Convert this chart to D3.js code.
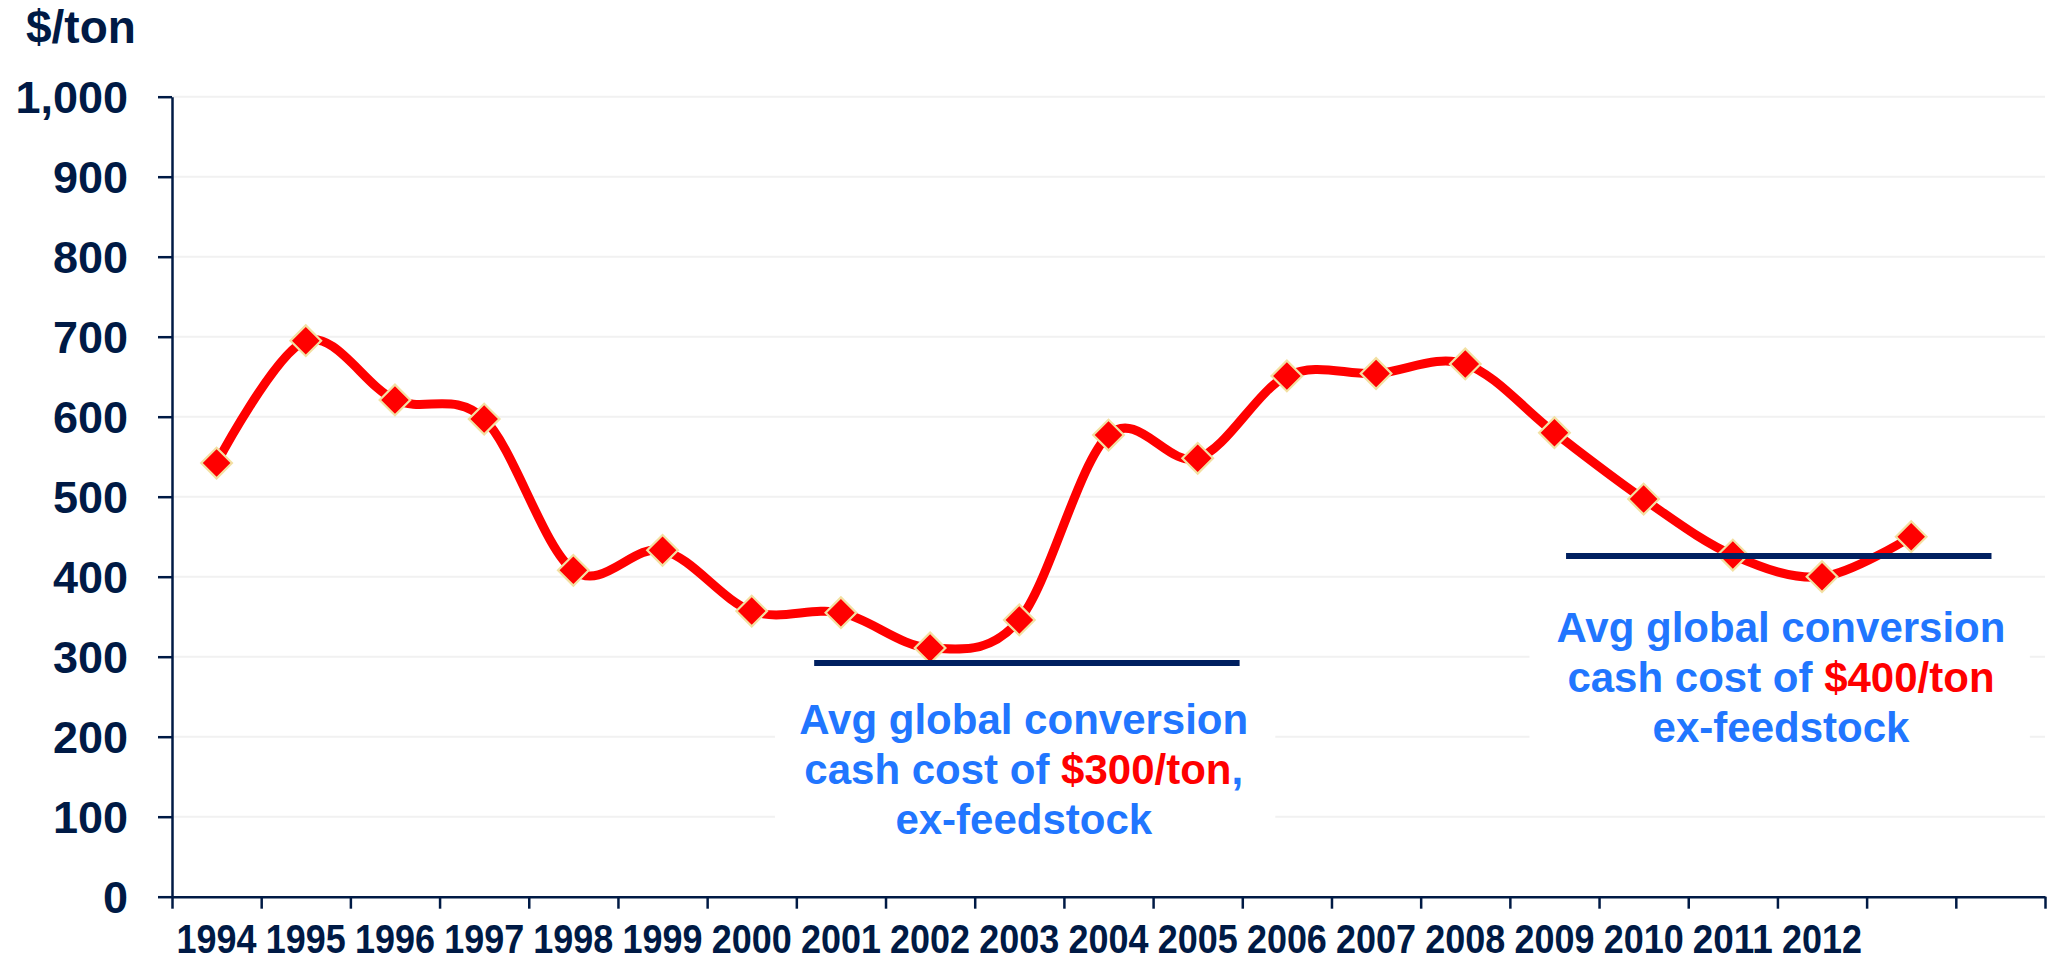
<!DOCTYPE html>
<html>
<head>
<meta charset="utf-8">
<script src="https://cdn.jsdelivr.net/npm/d3@7"></script>
<style>
  body { margin: 0; background: #fff; }
  text { font-family: "Liberation Sans", Arial, sans-serif; font-weight: bold; }
</style>
</head>
<body>
<script>
// categories on the x axis (21 slots, only 1994-2012 labelled)
const categories = ["1994", "1995", "1996", "1997", "1998", "1999", "2000", "2001", "2002", "2003",
  "2004", "2005", "2006", "2007", "2008", "2009", "2010", "2011", "2012", "2013", "2014"];
const labelYears = ["1994", "1995", "1996", "1997", "1998", "1999", "2000", "2001", "2002", "2003",
  "2004", "2005", "2006", "2007", "2008", "2009", "2010", "2011", "2012"];

// margin series, $/ton
const costYears = ["1994", "1995", "1996", "1997", "1998", "1999", "2000", "2001", "2002", "2003",
  "2004", "2005", "2006", "2007", "2008", "2009", "2010", "2011", "2012", "2013"];
const costValues = [542, 695, 621, 597, 408, 433, 357, 355, 311, 346,
  577, 548, 651, 654, 666, 580, 497, 427, 400, 450];

const yTicks = [0, 100, 200, 300, 400, 500, 600, 700, 800, 900, 1000];

// average conversion cost lines (slot index start/end, value)
const avgValues = [292, 426];
const avgStart = [7.2, 15.63];
const avgEnd = [11.97, 20.4];

// annotation text
const noteCenter = [9.55, 18.04];
const noteTop = [204, 318];
const notePrice = ["$300/ton", "$400/ton"];
const noteAfter = [",", ""];
const boxStart = [6.76, 15.22];
const boxEnd = [12.37, 20.83];
const boxHigh = [270, 382];
const boxLow = [58, 170];

const width = 2060, height = 961;
const margin = { top: 96.7, right: 15, bottom: 64.3, left: 172 };
const navy = "#001a45";
const blue = "#2176ff";

const svg = d3.select("body").append("svg")
  .attr("width", width)
  .attr("height", height);

const x = d3.scaleBand()
  .domain(categories)
  .range([margin.left, width - margin.right])
  .padding(0);

const xIdx = d3.scaleLinear()
  .domain([0, categories.length])
  .range([margin.left, width - margin.right]);

const y = d3.scaleLinear()
  .domain([0, 1000])
  .range([height - margin.bottom, margin.top]);

// faint gridlines
svg.append("g")
  .selectAll("line")
  .data(yTicks.filter(d => d > 0))
  .join("line")
  .attr("x1", margin.left)
  .attr("x2", width - margin.right)
  .attr("y1", d => y(d))
  .attr("y2", d => y(d))
  .attr("stroke", "#f1f1f1")
  .attr("stroke-width", 2);

// white text boxes behind the notes
svg.append("g")
  .selectAll("rect")
  .data(avgValues)
  .join("rect")
  .attr("x", (d, i) => xIdx(boxStart[i]))
  .attr("width", (d, i) => xIdx(boxEnd[i]) - xIdx(boxStart[i]))
  .attr("y", (d, i) => y(boxHigh[i]))
  .attr("height", (d, i) => y(boxLow[i]) - y(boxHigh[i]))
  .attr("fill", "#fff");

// y axis
const yAxis = svg.append("g")
  .attr("transform", `translate(${margin.left},0)`)
  .call(d3.axisLeft(y).tickValues(yTicks).tickSize(14).tickSizeOuter(0)
    .tickPadding(30).tickFormat(d3.format(",")));
yAxis.select(".domain").attr("stroke", navy).attr("stroke-width", 2.5);
yAxis.selectAll(".tick line").attr("stroke", navy).attr("stroke-width", 2.5);
yAxis.selectAll(".tick text")
  .attr("fill", navy)
  .style("font-size", "45px")
  .attr("dy", "0.36em");

// x axis: ticks on slot boundaries
const xAxis = svg.append("g")
  .attr("transform", `translate(0,${height - margin.bottom})`)
  .call(d3.axisBottom(xIdx).tickValues(d3.range(categories.length + 1))
    .tickSize(12).tickSizeOuter(0).tickFormat(""));
xAxis.select(".domain").attr("stroke", navy).attr("stroke-width", 2.5);
xAxis.selectAll(".tick line").attr("stroke", navy).attr("stroke-width", 2.5);

// x labels centred in slots
const xLabels = svg.append("g")
  .attr("transform", `translate(0,${height - margin.bottom})`)
  .call(d3.axisBottom(x).tickValues(labelYears).tickSize(0));
xLabels.select(".domain").remove();
xLabels.selectAll(".tick text")
  .attr("fill", navy)
  .style("font-size", "41px")
  .attr("y", 56)
  .attr("dy", 0)
  .attr("textLength", 80)
  .attr("lengthAdjust", "spacingAndGlyphs");

// y unit label
svg.append("text")
  .attr("x", 26)
  .attr("y", 43)
  .attr("fill", navy)
  .style("font-size", "46px")
  .text("$/ton");

// smoothed series line
const series = costYears.map((yr, i) => ({ yr, v: costValues[i] }));
const line = d3.line()
  .x(d => x(d.yr) + x.bandwidth() / 2)
  .y(d => y(d.v))
  .curve(d3.curveCardinal.tension(0));

svg.append("path")
  .datum(series)
  .attr("d", line)
  .attr("fill", "none")
  .attr("stroke", "#ff0000")
  .attr("stroke-width", 9)
  .attr("stroke-linejoin", "round");

// diamond markers
svg.append("g")
  .selectAll("path")
  .data(series)
  .join("path")
  .attr("d", d3.symbol(d3.symbolSquare, 470))
  .attr("transform", d => `translate(${x(d.yr) + x.bandwidth() / 2},${y(d.v)}) rotate(45)`)
  .attr("fill", "#ff0000")
  .attr("stroke", "#f3e0a2")
  .attr("stroke-width", 2.2);

// average cost lines
svg.append("g")
  .selectAll("line")
  .data(avgValues)
  .join("line")
  .attr("x1", (d, i) => xIdx(avgStart[i]))
  .attr("x2", (d, i) => xIdx(avgEnd[i]))
  .attr("y1", d => y(d))
  .attr("y2", d => y(d))
  .attr("stroke", "#002060")
  .attr("stroke-width", 6);

// notes
avgValues.forEach((v, i) => {
  const g = svg.append("text")
    .attr("text-anchor", "middle")
    .attr("fill", blue)
    .style("font-size", "42px");
  const cx = xIdx(noteCenter[i]);
  const top = y(noteTop[i]);
  g.append("tspan").attr("x", cx).attr("y", top).text("Avg global conversion");
  const l2 = g.append("tspan").attr("x", cx).attr("y", top + 50);
  l2.append("tspan").text("cash cost of ");
  l2.append("tspan").attr("fill", "#ff0000").text(notePrice[i]);
  if (noteAfter[i]) l2.append("tspan").text(noteAfter[i]);
  g.append("tspan").attr("x", cx).attr("y", top + 100).text("ex-feedstock");
});
</script>
</body>
</html>
